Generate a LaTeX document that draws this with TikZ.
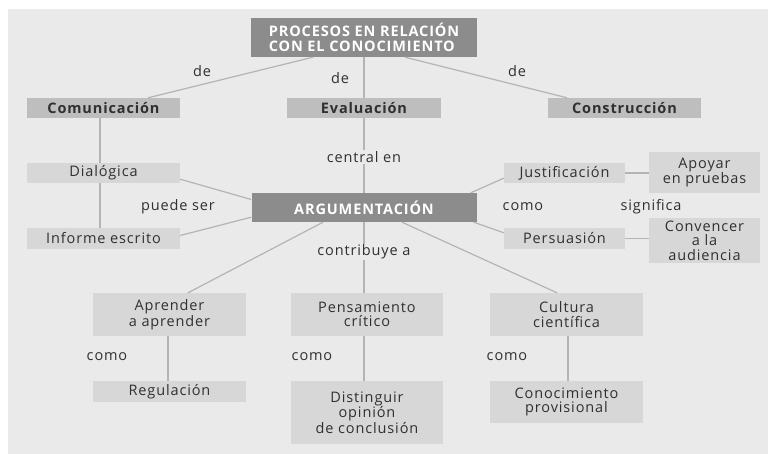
\documentclass[tikz,border=0pt]{standalone}
\usepackage{fontspec}
\setmainfont{Open Sans}[LetterSpace=6]
\usetikzlibrary{calc}
\definecolor{panel}{HTML}{EAEAEA}
\definecolor{darkbox}{HTML}{8C8C8C}
\definecolor{midbox}{HTML}{BEBEBE}
\definecolor{lightbox}{HTML}{D7D7D7}
\definecolor{wire}{HTML}{B4B4B4}
\definecolor{ink}{HTML}{303030}

\begin{document}
\begin{tikzpicture}[x=1pt, y=-1pt,
  every node/.style={inner sep=0pt, align=center, text=ink,
    font=\fontsize{14.5}{14.4}\selectfont},
  headbox/.style={fill=darkbox, text=white, font=\fontsize{14.5}{14.4}\selectfont\bfseries},
  topicbox/.style={fill=midbox, minimum height=20pt, font=\fontsize{14.5}{14.4}\selectfont\bfseries},
  itembox/.style={fill=lightbox},
  lbl/.style={fill=panel, inner sep=1pt},
  link/.style={wire, line width=1.2pt}]
% background
\fill[white] (0,0) rectangle (769,454);
\fill[panel] (8,9) rectangle (768,454);
% top
\node[headbox, minimum width=226pt, minimum height=39pt, align=left] (proc) at (364,37.5)
  {PROCESOS EN RELACIÓN\\CON EL CONOCIMIENTO};
\node[topicbox, minimum width=153pt] (com) at (103.5,108) {Comunicación};
\node[topicbox, minimum width=154pt] (eva) at (364,108) {Evaluación};
\node[topicbox, minimum width=153pt] (con) at (624.5,108) {Construcción};
% middle
\node[headbox, minimum width=225pt, minimum height=29pt] (arg) at (364,207.5) {ARGUMENTACIÓN};
\node[itembox, minimum width=153pt, minimum height=20pt] (dia) at (103.5,173) {Dialógica};
\node[itembox, minimum width=153pt, minimum height=21pt] (inf) at (103.5,238.5) {Informe escrito};
\node[itembox, minimum width=121pt, minimum height=20pt] (jus) at (564.5,173) {Justificación};
\node[itembox, minimum width=121pt, minimum height=21pt] (per) at (564.5,238.5) {Persuasión};
\node[itembox, minimum width=111pt, minimum height=41pt] (apo) at (704.5,172.5) {Apoyar\\en pruebas};
\node[itembox, minimum width=111pt, minimum height=45pt] (cvn) at (704.5,240.5) {Convencer\\a la\\audiencia};
% bottom
\node[itembox, minimum width=153pt, minimum height=43pt] (apr) at (169.5,314.5) {Aprender\\a aprender};
\node[itembox, minimum width=152pt, minimum height=43pt] (pen) at (367,314.5) {Pensamiento\\crítico};
\node[itembox, minimum width=153pt, minimum height=43pt] (cul) at (566.5,314.5) {Cultura\\científica};
\node[itembox, minimum width=153pt, minimum height=21pt] (reg) at (169.5,391.5) {Regulación};
\node[itembox, minimum width=152pt, minimum height=63pt] (dis) at (367,412.5) {Distinguir\\opinión\\de conclusión};
\node[itembox, minimum width=153pt, minimum height=42pt] (cpr) at (566.5,402) {Conocimiento\\provisional};
% links
\draw[link] ([xshift=-51pt]proc.south) -- ([xshift=44.5pt]com.north);
\draw[link] (proc.south) -- (eva.north);
\draw[link] ([xshift=41pt]proc.south) -- ([xshift=-57.5pt]con.north);
\draw[link] (eva.south) -- node[lbl, pos=0.52] (cen) {central en} (arg.north);
\draw[link] ([xshift=-3.5pt]com.south) -- ([xshift=-3.5pt]dia.north);
\draw[link] ([xshift=-3.5pt]dia.south) -- ([xshift=-3.5pt]inf.north);
\draw[link] ([yshift=4pt]dia.south east) -- ([yshift=8pt]arg.west);
\draw[link] ([yshift=3pt]inf.east) -- ([yshift=5pt]arg.south west);
\draw[link] ([xshift=-6pt]arg.north east) -- ([yshift=5pt]jus.south west);
\draw[link] ([xshift=-3pt]arg.south east) -- ([yshift=-5pt]per.north west);
\draw[link] (jus.east) -- (jus.east -| apo.west);
\draw[link] (per.east) -- (per.east -| cvn.west);
\draw[link] ([xshift=-41pt]arg.south) -- ([xshift=18.5pt]apr.north);
\draw[link] (arg.south) -- node[lbl, pos=0.42] (ctb) {contribuye a} (arg.south |- pen.north);
\draw[link] ([xshift=38pt]arg.south) -- ([xshift=-9.5pt]cul.north);
\draw[link] ([xshift=-1.5pt]apr.south) -- ([xshift=-1.5pt]reg.north);
\draw[link] (arg.south |- pen.south) -- (arg.south |- dis.north);
\draw[link] ([xshift=1.5pt]cul.south) -- ([xshift=1.5pt]cpr.north);
% labels
\node[lbl] (de1) at (202,71) {de};
\node[lbl] (de2) at (340,78) {de};
\node[lbl] (de3) at (517,71) {de};
\node[lbl] (pue) at (178,207) {puede ser};
\node[lbl] (co1) at (523,207) {como};
\node[lbl] (sig) at (651,207) {significa};
\node[lbl] (co2) at (107,357) {como};
\node[lbl] (co3) at (312,357) {como};
\node[lbl] (co4) at (507,357) {como};
\end{tikzpicture}
\end{document}
